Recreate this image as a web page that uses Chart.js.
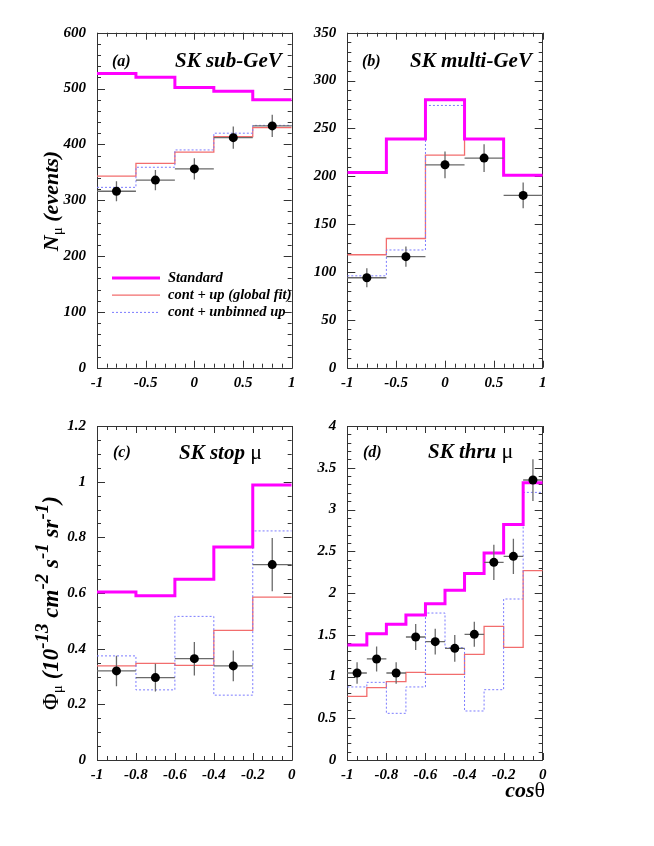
<!DOCTYPE html>
<html>
<head>
<meta charset="utf-8">
<script src="https://cdn.jsdelivr.net/npm/chart.js@4.4.0/dist/chart.umd.min.js"></script>
<style>
body { margin: 0; background: #fff; }
#wrap { position: relative; width: 654px; height: 846px; }
#wrap canvas { position: absolute; left: 0; top: 0; }
</style>
</head>
<body>
<div id="wrap">
<canvas id="pa" width="654" height="846"></canvas>
<canvas id="pb" width="654" height="846"></canvas>
<canvas id="pc" width="654" height="846"></canvas>
<canvas id="pd" width="654" height="846"></canvas>
</div>
<script>
// (a) SK sub-GeV
var aEdges = [-1, -0.6, -0.2, 0.2, 0.6, 1];
var aStandard = [527, 520, 502, 495, 480];
var aGlobalFit = [343, 366, 386, 414, 430];
var aUnbinned = [323, 359, 390, 420, 434];
var aData = [316, 336, 356, 412, 433];
var aErr = [18, 18, 19, 20, 20];

// (b) SK multi-GeV
var bEdges = [-1, -0.6, -0.2, 0.2, 0.6, 1];
var bStandard = [204, 239, 280, 239, 201];
var bGlobalFit = [118, 135, 222, 239, 201];
var bUnbinned = [96, 123, 274, 239, 201];
var bData = [94, 116, 212, 219, 180];
var bErr = [10, 10.5, 14, 14.5, 13.5];

// (c) SK stop mu
var cEdges = [-1, -0.8, -0.6, -0.4, -0.2, 0];
var cStandard = [0.604, 0.590, 0.649, 0.765, 0.988];
var cGlobalFit = [0.338, 0.347, 0.340, 0.466, 0.585];
var cUnbinned = [0.374, 0.252, 0.516, 0.233, 0.823];
var cData = [0.320, 0.296, 0.364, 0.338, 0.702];
var cErr = [0.055, 0.05, 0.06, 0.055, 0.096];

// (d) SK thru mu
var dEdges = [-1, -0.9, -0.8, -0.7, -0.6, -0.5, -0.4, -0.3, -0.2, -0.1, 0];
var dStandard = [1.377, 1.513, 1.625, 1.737, 1.872, 2.032, 2.235, 2.479, 2.82, 3.32];
var dGlobalFit = [0.763, 0.866, 0.938, 1.050, 1.026, 1.026, 1.266, 1.601, 1.349, 2.268];
var dUnbinned = [0.875, 0.930, 0.559, 0.875, 1.760, 1.345, 0.587, 0.842, 1.928, 3.205];
var dData = [1.042, 1.21, 1.042, 1.473, 1.417, 1.337, 1.505, 2.367, 2.439, 3.353];
var dErr = [0.13, 0.15, 0.13, 0.155, 0.155, 0.16, 0.15, 0.21, 0.21, 0.25];

// axis ranges: [min, max, major step, minor subdivisions]
var aXAxis = [-1, 1, 0.5, 5], aYAxis = [0, 600, 100, 5];
var bXAxis = [-1, 1, 0.5, 5], bYAxis = [0, 350, 50, 5];
var cXAxis = [-1, 0, 0.2, 4], cYAxis = [0, 1.2, 0.2, 4];
var dXAxis = [-1, 0, 0.2, 4], dYAxis = [0, 4, 0.5, 5];

var legendLabels = ['Standard', 'cont + up (global fit)', 'cont + unbinned up'];

var MAGENTA = '#ff00ff', RED = '#f26d6d', BLUE = '#7b7bff';
var SERIF = '"Liberation Serif", "Times New Roman", serif';
var BI = function(s) { return 'italic bold ' + s + 'px ' + SERIF; };
var UP = function(s) { return s + 'px ' + SERIF; };

// one point per bin edge, the last edge repeats the last bin
function histo(edges, vals) {
  return edges.map(function(e, i) {
    return { x: e, y: vals[Math.min(i, vals.length - 1)] };
  });
}

function centers(edges, vals) {
  return vals.map(function(v, i) {
    return { x: (edges[i] + edges[i + 1]) / 2, y: v };
  });
}

function fmt(v) { return String(+(+v).toFixed(3)); }

function drawRuns(ctx, runs, x, y, align) {
  var w = 0;
  runs.forEach(function(r) { ctx.font = r[1]; w += ctx.measureText(r[0]).width; });
  var px = align === 'center' ? x - w / 2 : (align === 'right' ? x - w : x);
  runs.forEach(function(r) {
    ctx.font = r[1];
    ctx.fillText(r[0], px, y + (r[2] || 0));
    px += ctx.measureText(r[0]).width;
  });
}

var frame = {
  id: 'frame',
  beforeDatasetsDraw: function(chart, args, o) {
    var ctx = chart.ctx, c = chart.chartArea, x = chart.scales.x, y = chart.scales.y;
    ctx.save();
    ctx.strokeStyle = '#333';
    ctx.lineWidth = 1;
    ctx.beginPath();
    var ny = Math.round((o.y[1] - o.y[0]) / o.y[2] * o.y[3]);
    for (var i = 0; i <= ny; i++) {
      var py = Math.round(y.getPixelForValue(o.y[0] + i * o.y[2] / o.y[3])) + 0.5;
      var len = i % o.y[3] === 0 ? 8 : 4;
      ctx.moveTo(c.left, py); ctx.lineTo(c.left + len, py);
      ctx.moveTo(c.right, py); ctx.lineTo(c.right - len, py);
    }
    var nx = Math.round((o.x[1] - o.x[0]) / o.x[2] * o.x[3]);
    for (var j = 0; j <= nx; j++) {
      var px = Math.round(x.getPixelForValue(o.x[0] + j * o.x[2] / o.x[3])) + 0.5;
      var l2 = j % o.x[3] === 0 ? 7 : 4;
      ctx.moveTo(px, c.bottom); ctx.lineTo(px, c.bottom - l2);
      ctx.moveTo(px, c.top); ctx.lineTo(px, c.top + l2);
    }
    ctx.rect(Math.round(c.left) + 0.5, Math.round(c.top) + 0.5,
      Math.round(c.right - c.left), Math.round(c.bottom - c.top));
    ctx.stroke();
    ctx.restore();
  }
};

var errBars = {
  id: 'errBars',
  beforeDatasetDraw: function(chart, args, o) {
    if (args.index !== 0) return;
    var ctx = chart.ctx, x = chart.scales.x, y = chart.scales.y;
    ctx.save();
    ctx.strokeStyle = '#6a6a6a';
    ctx.lineWidth = 1.3;
    ctx.beginPath();
    o.vals.forEach(function(v, i) {
      var xm = x.getPixelForValue((o.edges[i] + o.edges[i + 1]) / 2);
      var py = y.getPixelForValue(v);
      ctx.moveTo(x.getPixelForValue(o.edges[i]), py);
      ctx.lineTo(x.getPixelForValue(o.edges[i + 1]), py);
      ctx.moveTo(xm, y.getPixelForValue(v - o.errs[i]));
      ctx.lineTo(xm, y.getPixelForValue(v + o.errs[i]));
    });
    ctx.stroke();
    ctx.restore();
  }
};

var texts = {
  id: 'texts',
  afterDraw: function(chart, args, o) {
    var ctx = chart.ctx;
    ctx.save();
    ctx.fillStyle = '#000';
    ctx.textBaseline = 'alphabetic';
    (o.items || []).forEach(function(t) {
      ctx.save();
      ctx.translate(t.x, t.y);
      if (t.rot) ctx.rotate(-Math.PI / 2);
      drawRuns(ctx, t.runs, 0, 0, t.align || 'left');
      ctx.restore();
    });
    if (o.legend) {
      var L = o.legend;
      var styles = [[MAGENTA, 3, []], [RED, 1.3, []], [BLUE, 1, [2, 2]]];
      legendLabels.forEach(function(lab, i) {
        var yy = L.y + i * L.dy;
        ctx.strokeStyle = styles[i][0];
        ctx.lineWidth = styles[i][1];
        ctx.setLineDash(styles[i][2]);
        ctx.beginPath();
        ctx.moveTo(L.x, yy); ctx.lineTo(L.x + 48, yy);
        ctx.stroke();
        ctx.setLineDash([]);
        ctx.font = BI(14.5);
        ctx.textBaseline = 'middle';
        ctx.fillText(lab, L.x + 56, yy);
      });
    }
    ctx.restore();
  }
};

function makePanel(id, box, edges, std, fit, unb, pts, errs, xAxis, yAxis, items, legend) {
  var tickFont = { family: SERIF, size: 15, style: 'italic', weight: 'bold' };
  var line = function(vals, color, width, dash) {
    return {
      type: 'line', data: histo(edges, vals), borderColor: color, borderWidth: width,
      borderDash: dash, stepped: 'before', pointRadius: 0, fill: false, tension: 0
    };
  };
  return new Chart(document.getElementById(id), {
    type: 'line',
    data: {
      datasets: [
        { type: 'scatter', data: centers(edges, pts), pointRadius: 4.5, pointHoverRadius: 4.5,
          backgroundColor: '#000', borderColor: '#000', borderWidth: 0 },
        line(std, MAGENTA, 3, []),
        line(unb, BLUE, 1, [2, 2]),
        line(fit, RED, 1.3, [])
      ]
    },
    options: {
      responsive: false,
      animation: false,
      devicePixelRatio: 1,
      layout: { padding: { left: box[0] - 60, right: 654 - box[1], top: box[2], bottom: 846 - box[3] - 30 } },
      scales: {
        x: {
          type: 'linear', min: xAxis[0], max: xAxis[1],
          afterFit: function(s) { s.height = 30; },
          grid: { display: false, drawTicks: false },
          border: { display: false },
          ticks: { stepSize: xAxis[2], autoSkip: false, maxRotation: 0, padding: 6,
            color: '#000', font: tickFont, callback: fmt }
        },
        y: {
          min: yAxis[0], max: yAxis[1],
          afterFit: function(s) { s.width = 60; },
          grid: { display: false, drawTicks: false },
          border: { display: false },
          ticks: { stepSize: yAxis[2], autoSkip: false, padding: 11,
            color: '#000', font: tickFont, callback: fmt }
        }
      },
      plugins: {
        legend: { display: false },
        tooltip: { enabled: false },
        frame: { x: xAxis, y: yAxis },
        errBars: { edges: edges, vals: pts, errs: errs },
        texts: { items: items, legend: legend }
      }
    },
    plugins: [frame, errBars, texts]
  });
}

makePanel('pa', [97, 291.7, 32.7, 367.7], aEdges, aStandard, aGlobalFit, aUnbinned, aData, aErr, aXAxis, aYAxis, [
  { x: 112, y: 66, runs: [['(a)', BI(16)]] },
  { x: 175, y: 67, runs: [['SK sub-GeV', BI(21)]] },
  { x: 58, y: 201, rot: true, align: 'center', runs: [['N', BI(22)], ['\u03bc', UP(15), 4], [' (events)', BI(22)]] }
], { x: 112, y: 278, dy: 17.2 });

makePanel('pb', [347.3, 542.7, 32.7, 367.7], bEdges, bStandard, bGlobalFit, bUnbinned, bData, bErr, bXAxis, bYAxis, [
  { x: 362, y: 66, runs: [['(b)', BI(16)]] },
  { x: 410, y: 67, runs: [['SK multi-GeV', BI(21)]] }
], null);

makePanel('pc', [97, 291.7, 426, 760], cEdges, cStandard, cGlobalFit, cUnbinned, cData, cErr, cXAxis, cYAxis, [
  { x: 113, y: 457, runs: [['(c)', BI(16)]] },
  { x: 179, y: 459, runs: [['SK stop ', BI(21)], ['\u03bc', UP(22)]] },
  { x: 58, y: 603, rot: true, align: 'center', runs: [
    ['\u03a6', UP(23)], ['\u03bc', UP(15), 4], [' (10', BI(23)], ['-13', BI(19), -10],
    [' cm', BI(23)], ['-2', BI(19), -10], [' s', BI(23)], ['-1', BI(19), -10],
    [' sr', BI(23)], ['-1', BI(19), -10], [')', BI(23)]] }
], null);

makePanel('pd', [347.3, 542.7, 426, 760], dEdges, dStandard, dGlobalFit, dUnbinned, dData, dErr, dXAxis, dYAxis, [
  { x: 363, y: 457, runs: [['(d)', BI(16)]] },
  { x: 428, y: 458, runs: [['SK thru ', BI(21)], ['\u03bc', UP(22)]] },
  { x: 545, y: 797, align: 'right', runs: [['cos', BI(22)], ['\u03b8', UP(22)]] }
], null);
</script>
</body>
</html>
